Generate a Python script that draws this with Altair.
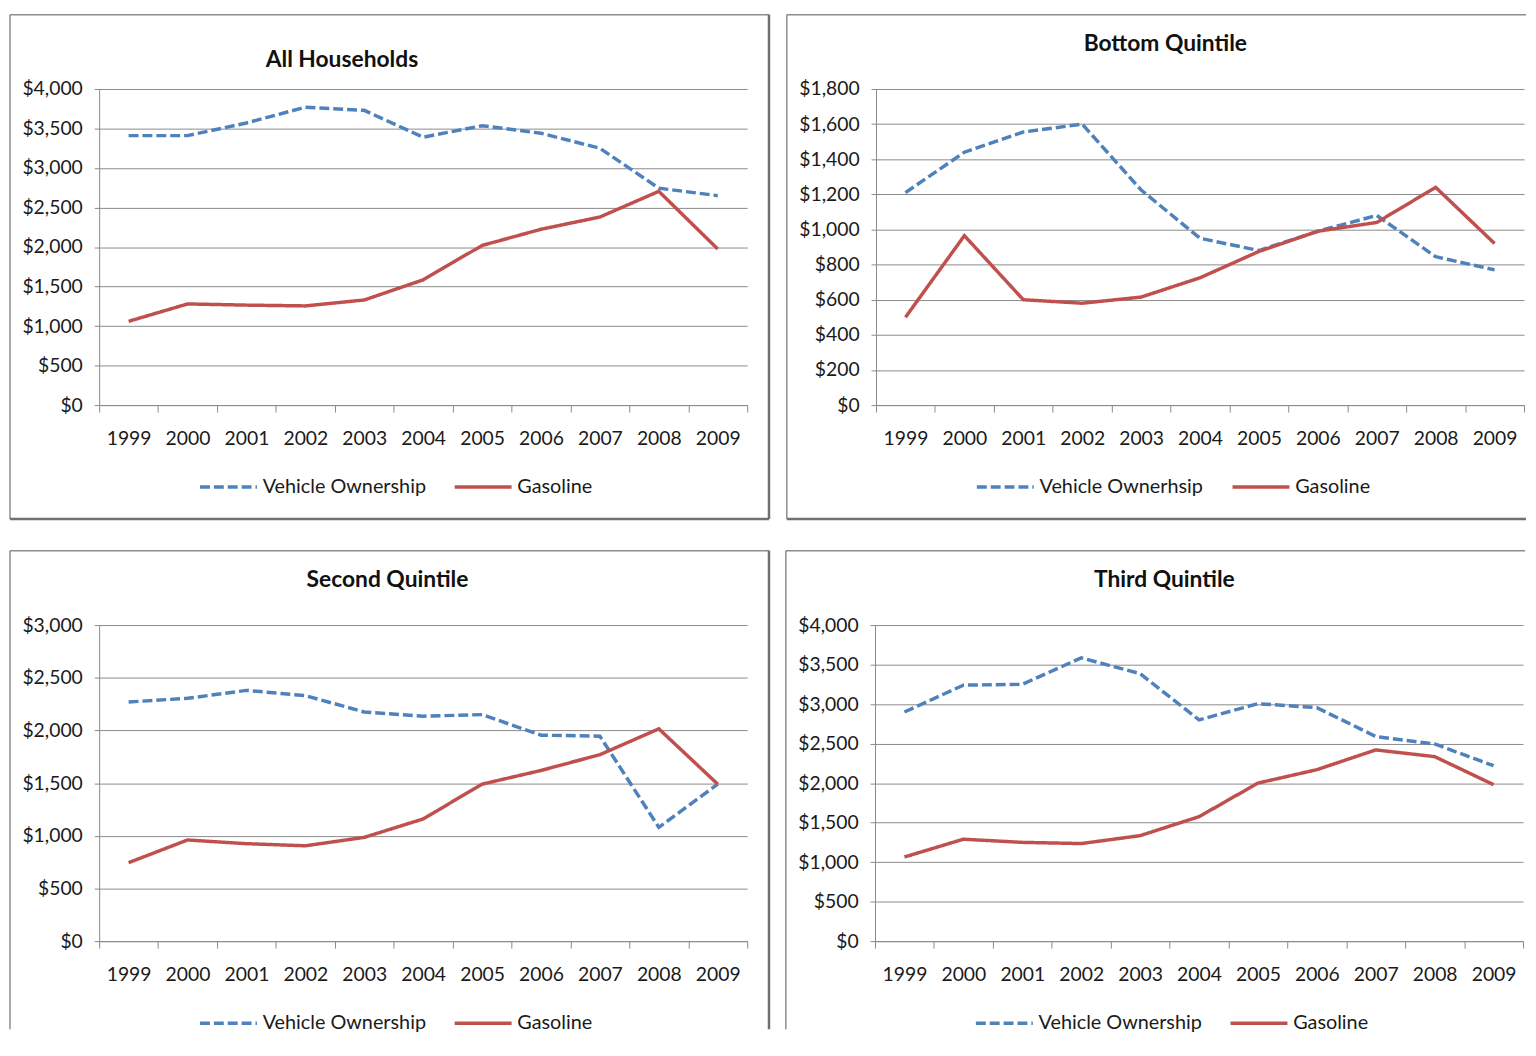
import altair as alt
import pandas as pd

years = ["1999", "2000", "2001", "2002", "2003", "2004", "2005", "2006", "2007", "2008", "2009"]

all_vehicle = [3410, 3410, 3570, 3770, 3730, 3390, 3535, 3440, 3250, 2745, 2650]
all_gas = [1060, 1280, 1265, 1255, 1330, 1585, 2020, 2225, 2380, 2705, 1975]

bottom_vehicle = [1210, 1440, 1555, 1600, 1225, 950, 880, 990, 1080, 845, 770]
bottom_gas = [500, 965, 600, 580, 615, 725, 875, 990, 1040, 1240, 920]

second_vehicle = [2270, 2305, 2380, 2330, 2175, 2135, 2150, 1955, 1945, 1080, 1490]
second_gas = [745, 960, 925, 905, 985, 1160, 1490, 1620, 1770, 2015, 1490]

third_vehicle = [2900, 3240, 3250, 3585, 3385, 2800, 3005, 2955, 2590, 2495, 2220]
third_gas = [1065, 1290, 1250, 1235, 1335, 1575, 2000, 2170, 2420, 2335, 1980]

FONT = "Lato"
TXT = "#1a1a1a"
GRID = "#8a8a8a"
BLUE = "#4F81BD"
RED = "#C0504D"
W, H = 654, 319


def frame_rule(x1, y1, x2=None, y2=None, color="#8c8c8c", width=1.5):
    enc = {"x": alt.value(x1), "y": alt.value(y1)}
    if x2 is not None:
        enc["x2"] = alt.value(x2)
    if y2 is not None:
        enc["y2"] = alt.value(y2)
    return alt.Chart(alt.Data(values=[{"k": 0}])).mark_rule(
        color=color, strokeWidth=width
    ).encode(**enc)


def panel(title, vlabel, vehicle, gas, ymax, step, tx, ty, right_edge, bottom_edge):
    df = pd.DataFrame({
        "Year": years * 2,
        "Series": [vlabel] * len(years) + ["Gasoline"] * len(years),
        "Value": vehicle + gas,
    })
    legend = alt.Legend(
        title=None, orient="none", legendX=100, legendY=371,
        direction="horizontal", symbolType="stroke", symbolSize=3300,
        symbolStrokeWidth=3.5, labelFont=FONT, labelFontSize=20,
        labelColor=TXT, columnPadding=21, labelOffset=4, padding=0,
        labelLimit=400,
    )
    dom = [vlabel, "Gasoline"]
    lines = alt.Chart(df).mark_line(strokeWidth=3.5).encode(
        x=alt.X(
            "Year:O",
            scale=alt.Scale(type="band", paddingInner=0, paddingOuter=0),
            axis=alt.Axis(
                title=None, labelAngle=0, tickBand="extent", tickSize=7,
                tickColor=GRID, domainColor=GRID, labelFont=FONT,
                labelFontSize=19.5, labelColor=TXT, labelPadding=18, grid=False,
            ),
        ),
        y=alt.Y(
            "Value:Q",
            scale=alt.Scale(domain=[0, ymax], nice=False),
            axis=alt.Axis(
                title=None, values=list(range(0, ymax + 1, step)),
                format="$,.0f", tickSize=5, tickColor=GRID, domainColor=GRID,
                gridColor=GRID, gridWidth=1, grid=True, labelFont=FONT,
                labelFontSize=19.5, labelColor=TXT, labelPadding=12,
            ),
        ),
        color=alt.Color("Series:N", scale=alt.Scale(domain=dom, range=[BLUE, RED]), legend=legend),
        strokeDash=alt.StrokeDash(
            "Series:N", scale=alt.Scale(domain=dom, range=[[10, 4], [1, 0]]), legend=legend
        ),
    )
    ttl = alt.Chart(alt.Data(values=[{"t": title}])).mark_text(
        font=FONT, fontSize=23, fontWeight="bold", color="#111111",
        align="center", baseline="middle",
    ).encode(x=alt.value(tx), y=alt.value(ty), text="t:N")

    left, top = -90, -75
    bottom = 434 if bottom_edge else 408
    right = 676 if right_edge else 656
    frames = [
        frame_rule(left, top, x2=right),
        frame_rule(left, top, y2=bottom),
    ]
    if right_edge:
        frames.append(frame_rule(right, top, y2=bottom, color="#707070", width=2.5))
    if bottom_edge:
        frames.append(frame_rule(left, bottom, x2=right, color="#707070", width=2.5))

    return alt.layer(lines, ttl, *frames).properties(width=W, height=H)


p1 = panel("All Households", "Vehicle Ownership", all_vehicle, all_gas, 4000, 500, 245, -29, True, True)
p2 = panel("Bottom Quintile", "Vehicle Ownerhsip", bottom_vehicle, bottom_gas, 1800, 200, 292, -45, False, True)
p3 = panel("Second Quintile", "Vehicle Ownership", second_vehicle, second_gas, 3000, 500, 291, -45, True, False)
p4 = panel("Third Quintile", "Vehicle Ownership", third_vehicle, third_gas, 4000, 500, 292, -45, False, False)

row1 = alt.hconcat(p1, p2, spacing=14).resolve_scale(color="independent", strokeDash="independent").resolve_legend(color="independent", strokeDash="independent")
row2 = alt.hconcat(p3, p4, spacing=14).resolve_scale(color="independent", strokeDash="independent").resolve_legend(color="independent", strokeDash="independent")

chart = alt.vconcat(row1, row2, spacing=28).resolve_scale(
    color="independent", strokeDash="independent"
).resolve_legend(
    color="independent", strokeDash="independent"
).properties(
    padding=0, background="white"
).configure_view(stroke=None)

chart.save("out.html", embed_options={"renderer": "svg", "actions": False})
